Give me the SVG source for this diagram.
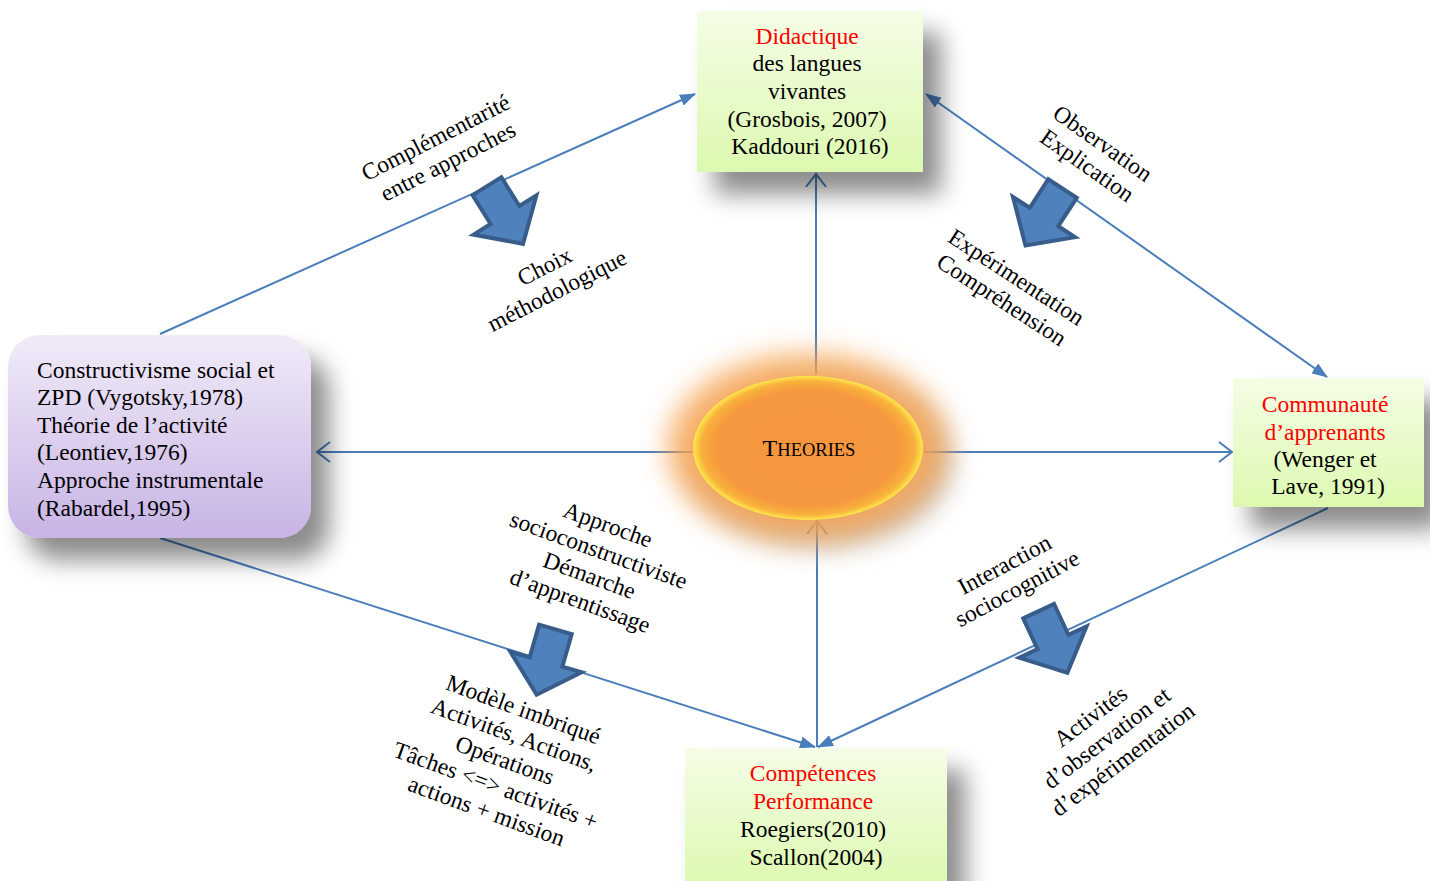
<svg xmlns="http://www.w3.org/2000/svg" width="1430" height="881" viewBox="0 0 1430 881">
<defs>
<style>
.t{font-family:"Liberation Serif","Times New Roman",serif;font-size:23.5px;fill:#000}
.r{fill:#ff0000}
.lbl{font-family:"Liberation Serif","Times New Roman",serif;font-size:23.5px;fill:#000;text-anchor:middle}
.ln{stroke:#4a7ebb;stroke-width:2;fill:none}
.blk{fill:#4f81bd;stroke:#385d8a;stroke-width:4;stroke-linejoin:miter}
</style>
<linearGradient id="gGreen" x1="0" y1="0" x2="0" y2="1">
<stop offset="0" stop-color="#f5fde6"/><stop offset="1" stop-color="#dcf9b0"/>
</linearGradient>
<linearGradient id="gPurple" x1="0" y1="0" x2="0" y2="1">
<stop offset="0" stop-color="#f1ebf8"/><stop offset="1" stop-color="#c8b4e5"/>
</linearGradient>
<radialGradient id="gOrange" cx="0.5" cy="0.5" r="0.5">
<stop offset="0" stop-color="#f5963f"/><stop offset="0.8" stop-color="#f6983f"/><stop offset="0.93" stop-color="#f9b23c"/><stop offset="1" stop-color="#fde84c"/>
</radialGradient>
<filter id="sh" x="-30%" y="-30%" width="170%" height="170%">
<feDropShadow dx="18" dy="22" stdDeviation="12" flood-color="#000" flood-opacity="0.45"/>
</filter>
<filter id="glow" x="-50%" y="-50%" width="200%" height="200%">
<feGaussianBlur stdDeviation="14"/>
</filter>
<marker id="tri" viewBox="0 0 16 12" refX="15" refY="6" markerWidth="16" markerHeight="12" markerUnits="userSpaceOnUse" orient="auto-start-reverse">
<path d="M0,0 L16,6 L0,12 z" fill="#4a7ebb"/>
</marker>
<marker id="vee" viewBox="0 0 16 22" refX="14" refY="11" markerWidth="16" markerHeight="22" markerUnits="userSpaceOnUse" orient="auto">
<path d="M1,1 L14,11 L1,21" fill="none" stroke="#4a7ebb" stroke-width="2"/>
</marker>
<path id="bigArrow" d="M-17,-34 L17,-34 L17,0 L37,0 L0,34 L-37,0 L-17,0 Z"/>
</defs>

<rect width="1430" height="881" fill="#ffffff"/>

<g id="connectors">
<line class="ln" x1="160" y1="334" x2="695" y2="94" marker-end="url(#tri)"/>
<line class="ln" x1="926" y1="94" x2="1327" y2="377" marker-start="url(#tri)" marker-end="url(#tri)"/>
<line class="ln" x1="160" y1="538" x2="815" y2="747" marker-end="url(#tri)"/>
<line class="ln" x1="1328" y1="508" x2="818" y2="747" marker-end="url(#tri)"/>
<line class="ln" x1="816" y1="374" x2="816" y2="174" marker-end="url(#vee)"/>
<line class="ln" x1="817" y1="747" x2="817" y2="521" marker-end="url(#vee)"/>
<line class="ln" x1="693" y1="452" x2="317" y2="452" marker-end="url(#vee)"/>
<line class="ln" x1="924" y1="452" x2="1232" y2="452" marker-end="url(#vee)"/>
</g>

<g id="block-arrows">
<use href="#bigArrow" class="blk" transform="translate(505,215) rotate(-32)"/>
<use href="#bigArrow" class="blk" transform="translate(1044,217) rotate(33)"/>
<use href="#bigArrow" class="blk" transform="translate(546,662) rotate(16)"/>
<use href="#bigArrow" class="blk" transform="translate(1053,642) rotate(-25)"/>
</g>

<g id="node-didactique">
<rect x="697" y="11" width="226" height="161" fill="url(#gGreen)" filter="url(#sh)"/>
<text class="t" text-anchor="middle">
<tspan class="r" x="810" y="44">Didactique</tspan>
<tspan x="810" y="71">des langues</tspan>
<tspan x="810" y="99">vivantes</tspan>
<tspan x="810" y="127">(Grosbois, 2007)</tspan>
<tspan x="810" y="154">Kaddouri (2016)</tspan>
</text>
</g>

<g id="node-constructivisme">
<rect x="8" y="335" width="303" height="203" rx="32" ry="32" fill="url(#gPurple)" filter="url(#sh)"/>
<text class="t">
<tspan x="37" y="378">Constructivisme social et</tspan>
<tspan x="37" y="405">ZPD (Vygotsky,1978)</tspan>
<tspan x="37" y="433">Théorie de l’activité</tspan>
<tspan x="37" y="460">(Leontiev,1976)</tspan>
<tspan x="37" y="488">Approche instrumentale</tspan>
<tspan x="37" y="516">(Rabardel,1995)</tspan>
</text>
</g>

<g id="node-communaute">
<rect x="1233" y="378" width="191" height="129" fill="url(#gGreen)" filter="url(#sh)"/>
<text class="t" text-anchor="middle">
<tspan class="r" x="1328" y="412">Communauté</tspan>
<tspan class="r" x="1328" y="440">d’apprenants</tspan>
<tspan x="1328" y="467">(Wenger et</tspan>
<tspan x="1328" y="494">Lave, 1991)</tspan>
</text>
</g>

<g id="node-competences">
<rect x="685" y="748" width="262" height="140" fill="url(#gGreen)" filter="url(#sh)"/>
<text class="t" text-anchor="middle">
<tspan class="r" x="816" y="781">Compétences</tspan>
<tspan class="r" x="816" y="809">Performance</tspan>
<tspan x="816" y="837">Roegiers(2010)</tspan>
<tspan x="816" y="865">Scallon(2004)</tspan>
</text>
</g>

<g id="node-theories">
<ellipse cx="822" cy="462" rx="128" ry="84" fill="#8a8a8a" opacity="0.5" filter="url(#glow)"/>
<ellipse cx="808" cy="448" rx="140" ry="94" fill="#f7a350" opacity="0.85" filter="url(#glow)"/>
<ellipse cx="808" cy="448" rx="115" ry="72" fill="url(#gOrange)"/>
<text x="809" y="456" font-family="Liberation Serif, Times New Roman, serif" text-anchor="middle" fill="#000"><tspan font-size="24">T</tspan><tspan font-size="18.5">HEORIES</tspan></text>
</g>

<g id="labels">
<text class="lbl" transform="translate(441,148) rotate(-27)"><tspan x="0" y="-4">Complémentarité</tspan><tspan x="0" y="23">entre approches</tspan></text>
<text class="lbl" transform="translate(550,277) rotate(-27)"><tspan x="0" y="-4">Choix</tspan><tspan x="0" y="23">méthodologique</tspan></text>
<text class="lbl" transform="translate(1096,153) rotate(35)"><tspan x="0" y="-4">Observation</tspan><tspan x="0" y="23">Explication</tspan></text>
<text class="lbl" transform="translate(1010,287) rotate(33)"><tspan x="0" y="-4">Expérimentation</tspan><tspan x="0" y="23">Compréhension</tspan></text>
<text class="lbl" transform="translate(594,563) rotate(20)"><tspan x="0" y="-33">Approche</tspan><tspan x="0" y="-6">socioconstructiviste</tspan><tspan x="0" y="21">Démarche</tspan><tspan x="0" y="48">d’apprentissage</tspan></text>
<text class="lbl" transform="translate(505,760) rotate(20)"><tspan x="0" y="-46">Modèle imbriqué</tspan><tspan x="0" y="-19">Activités, Actions,</tspan><tspan x="0" y="8">Opérations</tspan><tspan x="0" y="35">Tâches &lt;=&gt; activités +</tspan><tspan x="0" y="62">actions + mission</tspan></text>
<text class="lbl" transform="translate(1010,575) rotate(-28)"><tspan x="0" y="-4">Interaction</tspan><tspan x="0" y="23">sociocognitive</tspan></text>
<text class="lbl" transform="translate(1106,737) rotate(-37)"><tspan x="0" y="-18">Activités</tspan><tspan x="0" y="9">d’observation et</tspan><tspan x="0" y="36">d’expérimentation</tspan></text>
</g>
</svg>
